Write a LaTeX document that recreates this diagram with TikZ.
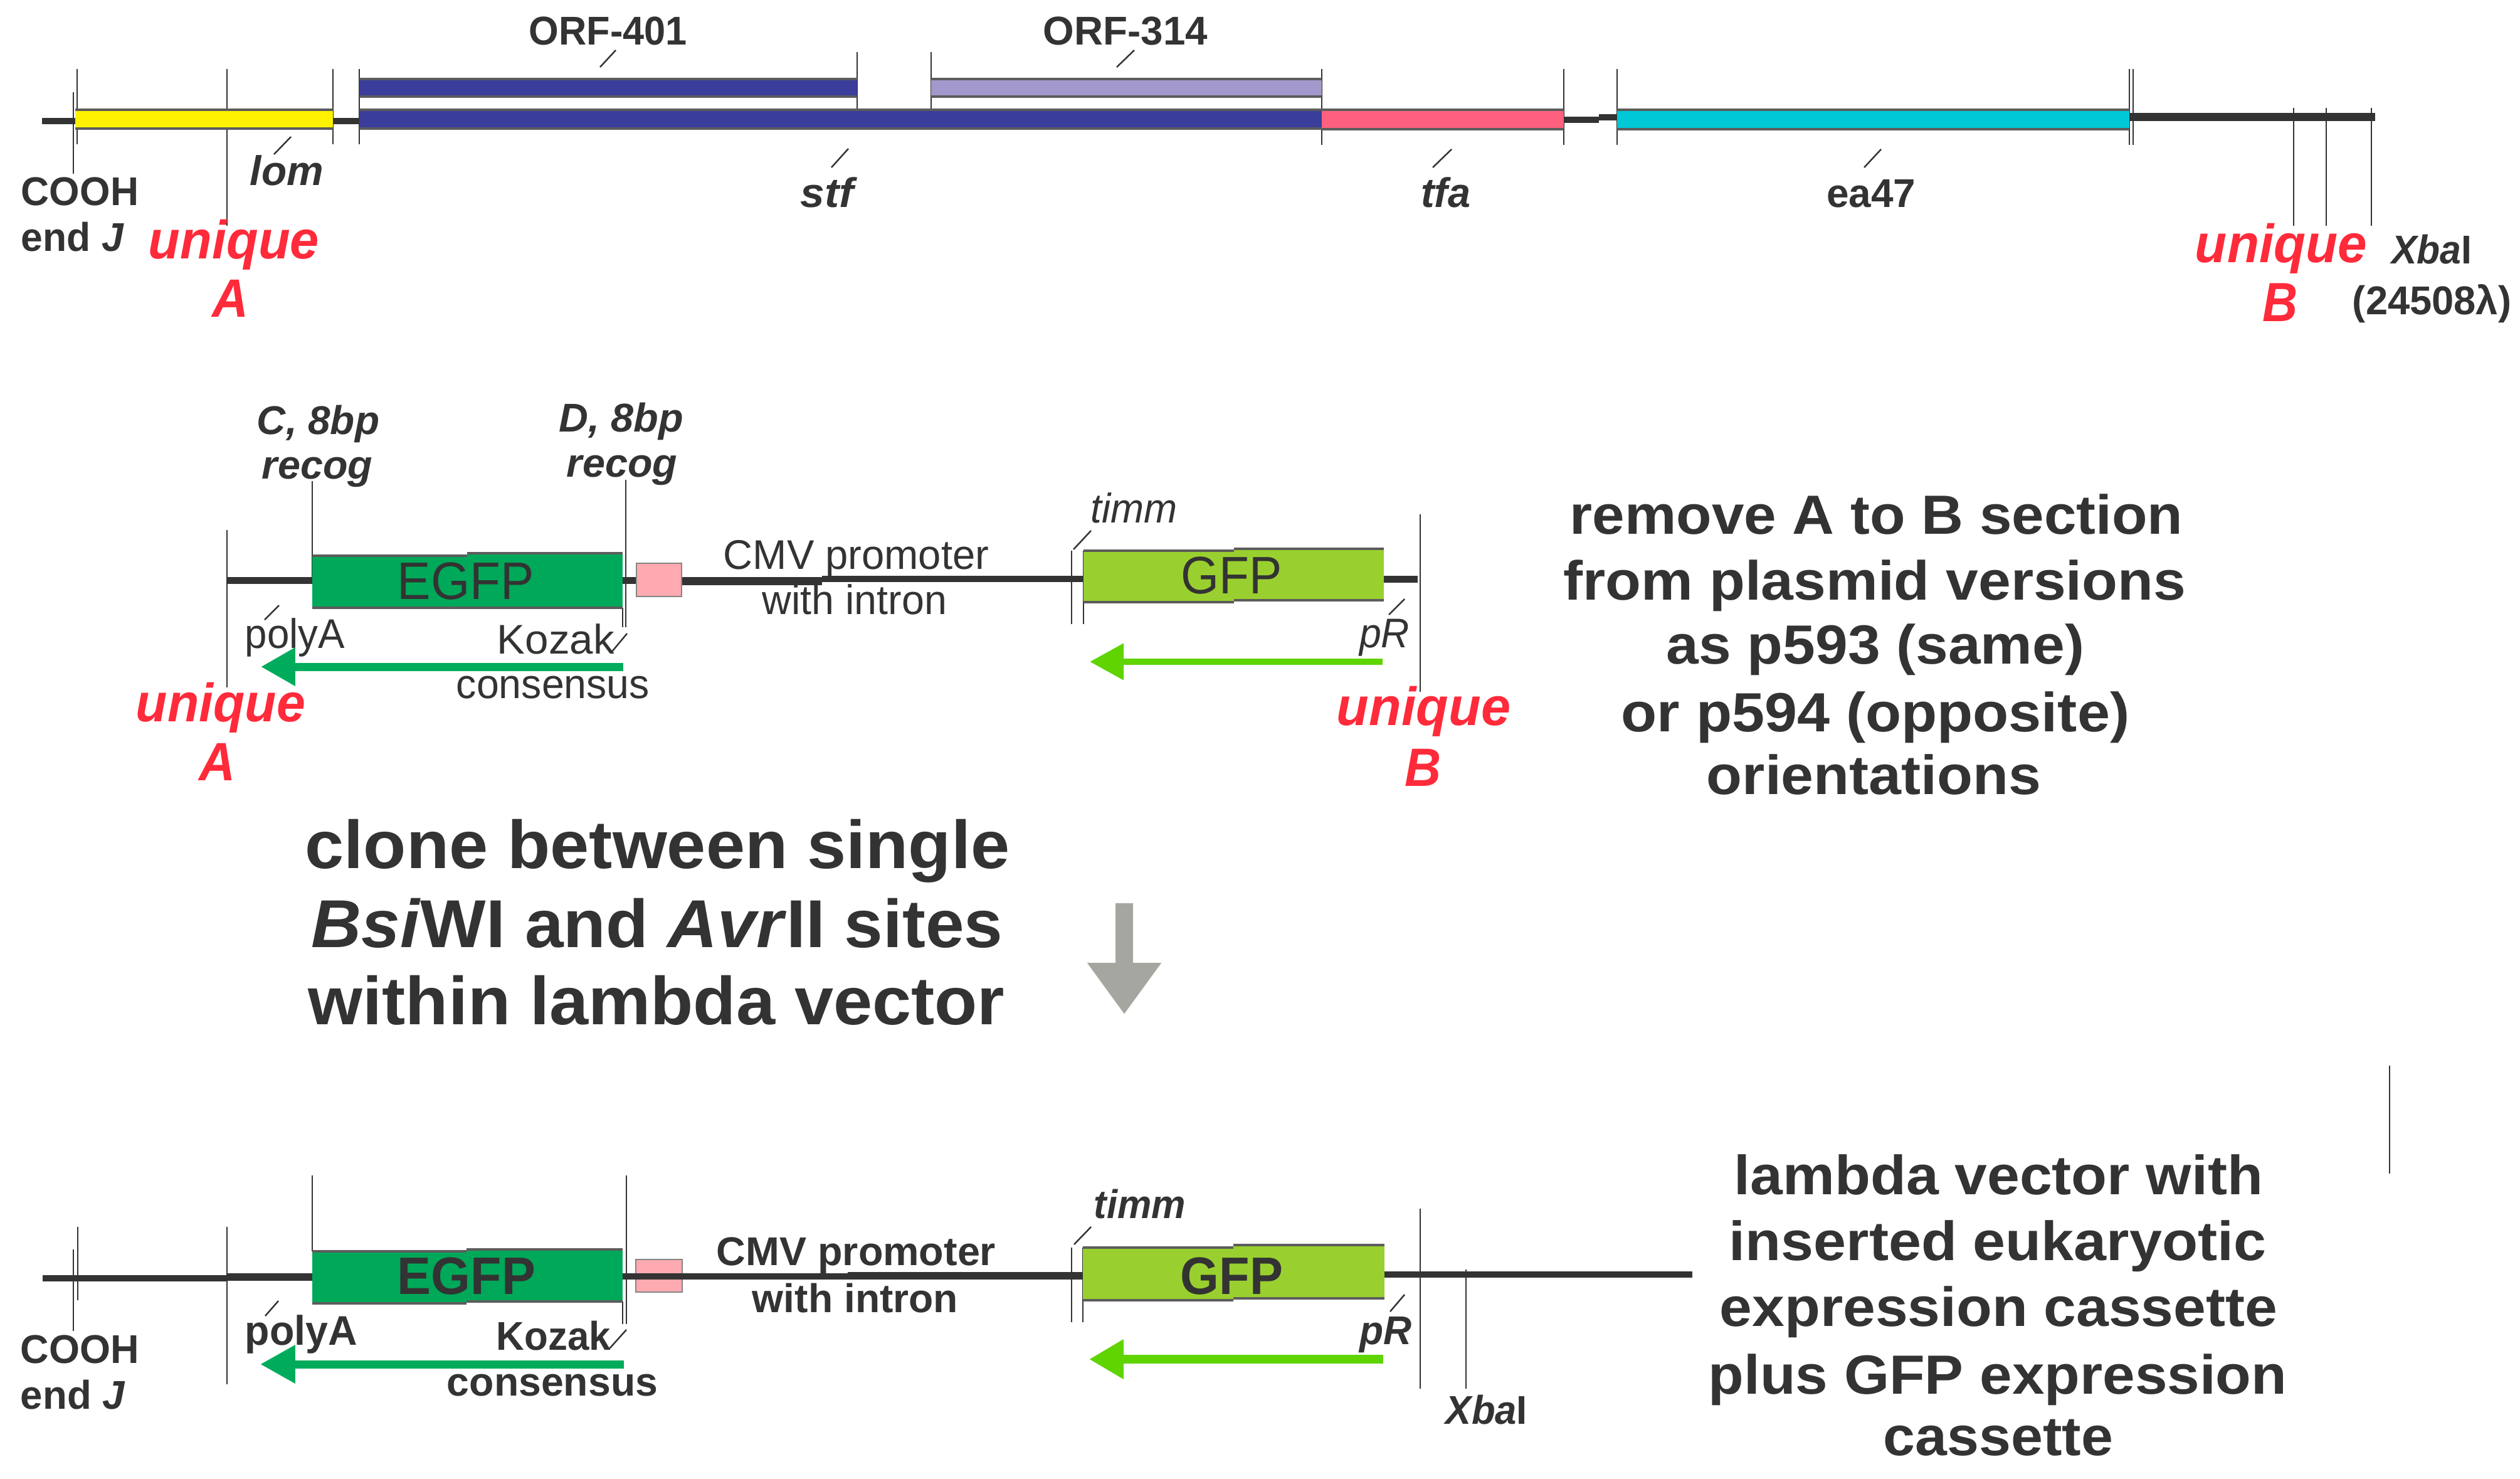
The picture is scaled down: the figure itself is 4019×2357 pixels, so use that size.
\documentclass[tikz,border=0pt]{standalone}
\usepackage{fontspec}
\usepackage{graphicx}
\setmainfont{Liberation Sans}
\usetikzlibrary{arrows.meta}
\definecolor{ink}{HTML}{333333}
\definecolor{uniq}{HTML}{FF2A3A}
\definecolor{cBlue}{HTML}{3A3D9A}
\definecolor{cLilac}{HTML}{A398CB}
\definecolor{cYellow}{HTML}{FFF200}
\definecolor{cPink}{HTML}{FF607F}
\definecolor{cTeal}{HTML}{00C8D6}
\definecolor{cEgfp}{HTML}{00A859}
\definecolor{cGfp}{HTML}{99D02F}
\definecolor{cKoz}{HTML}{FFAAB0}
\definecolor{cArrG}{HTML}{00AC5C}
\definecolor{cArrL}{HTML}{5FD400}
\definecolor{cGrey}{HTML}{A6A6A0}
\tikzset{
  lbl/.style={anchor=base,inner sep=0pt,outer sep=0pt,text=ink},
  redlbl/.style={lbl,text=uniq},
  tick/.style={draw=ink,line width=0.7pt},
  dna/.style={draw=ink,line width=#1*0.2845pt},
  edge/.style={draw=ink!80,line width=1pt},
  kozbox/.style={fill=cKoz,draw=ink!60,line width=0.8pt},
}
\newsavebox\tb
\newcommand\fz[1]{\fontsize{\fpeval{#1*0.28453}}{\fpeval{#1*0.33}}\selectfont}
% [style]{name}{x left}{x right}{baseline}{size px}{font}{text}
\newcommand\T[8][lbl]{\node[#1,name=#2] at ({(#3+#4)/2},#5) {\sbox\tb{\fz{#6}#7#8}\pgfmathsetmacro\sx{(#4-#3)*0.284528/\wd\tb}\scalebox{\sx}[1]{\usebox\tb}};}
\newcommand\gbar[5]{\fill[#5] (#1,#3) rectangle (#2,#4); \draw[edge] (#1,#3) -- (#2,#3); \draw[edge] (#1,#4) -- (#2,#4);}
\newcommand\vt[3]{\draw[tick] (#1,#2) -- (#1,#3);}
\newcommand\ld[4]{\draw[tick] (#1,#2) -- (#3,#4);}
\begin{document}
\begin{tikzpicture}[x=0.01cm,y=-0.01cm]
\useasboundingbox (0,0) rectangle (4019,2357);
\fill[white] (0,0) rectangle (4019,2357);

% ---- top row
\vt{117}{147}{277}\vt{123}{110}{230}\vt{362}{110}{360}\vt{531}{110}{230}\vt{573}{110}{230}
\vt{1367}{83}{175}\vt{1485}{83}{175}\vt{2108}{110}{231}\vt{2494}{110}{231}\vt{2579}{110}{231}
\vt{3396}{110}{231}\vt{3402}{110}{231}\vt{3658}{172}{360}\vt{3710}{172}{360}\vt{3782}{172}{360}
\draw[dna=10] (67,193) -- (120,193);
\draw[dna=10] (531,193) -- (573,193);
\draw[dna=10] (2494,191) -- (2550,191);
\draw[dna=10] (2550,187) -- (2579,187);
\draw[dna=13] (3396,186) -- (3788,186);
\gbar{120}{531}{175}{205}{cYellow}
\gbar{573}{1367}{126}{154}{cBlue}
\gbar{1485}{2108}{126}{154}{cLilac}
\gbar{573}{2108}{175}{205}{cBlue}
\gbar{2108}{2494}{175}{206}{cPink}
\gbar{2579}{3396}{175}{206}{cTeal}
\ld{982}{80}{957}{107}\ld{1809}{80}{1781}{107}\ld{464}{218}{437}{246}\ld{1353}{237}{1326}{267}
\ld{2315}{238}{2285}{267}\ld{3000}{238}{2973}{267}

\T{orfa}{844}{1096}{71}{64}{\bfseries}{ORF-401}
\T{orfb}{1664}{1926}{71}{64}{\bfseries}{ORF-314}
\T{lom}{399}{516}{295}{66}{\bfseries\itshape}{lom}
\T{stf}{1277}{1362}{330}{66}{\bfseries\itshape}{stf}
\T{tfa}{2266}{2345}{330}{66}{\bfseries\itshape}{tfa}
\T{eaf}{2913}{3055}{330}{64}{\bfseries}{ea47}
\T{coohA}{34}{221}{327}{64}{\bfseries}{COOH}
\T{endA}{34}{198}{400}{64}{\bfseries}{end \textit{J}}
\T[redlbl]{uniA}{237}{509}{412}{86}{\bfseries\itshape}{unique}
\T[redlbl]{letA}{339}{397}{505}{86}{\bfseries\itshape}{A}
\T[redlbl]{uniB}{3501}{3775}{418}{86}{\bfseries\itshape}{unique}
\T[redlbl]{letB}{3608}{3664}{512}{88}{\bfseries\itshape}{B}
\T{xbaA}{3814}{3942}{420}{64}{\bfseries}{\textit{Xba}I}
\T{pos}{3752}{4005}{501}{64}{\bfseries}{(24508λ)}

% ---- middle row
\vt{362}{845}{1096}\vt{498}{767}{925}\vt{993}{969}{1000}\vt{998}{765}{1000}
\vt{1709}{878}{995}\vt{1728}{878}{995}\vt{2265}{820}{1103}
\draw[dna=11] (362,925) -- (498,925);
\draw[dna=11] (993,925) -- (1015,925);
\draw[dna=13] (1087,926) -- (1311,926);
\draw[dna=10] (1311,923) -- (1728,923);
\draw[dna=11] (2207,923) -- (2261,923);
\gbar{498}{745}{886}{969}{cEgfp}
\gbar{745}{993}{882}{969}{cEgfp}
\draw[kozbox] (1015,898) rectangle (1087,951);
\gbar{1728}{1968}{878}{960}{cGfp}
\gbar{1968}{2207}{875}{957}{cGfp}
\ld{445}{965}{422}{988}\ld{1000}{1010}{975}{1040}\ld{1740}{846}{1712}{876}\ld{2240}{955}{2215}{980}
\T{cA}{410}{605}{692}{64}{\bfseries\itshape}{C, 8bp}
\T{rcA}{418}{594}{763}{64}{\bfseries\itshape}{recog}
\T{dA}{892}{1090}{688}{64}{\bfseries\itshape}{D, 8bp}
\T{rdA}{904}{1080}{760}{64}{\bfseries\itshape}{recog}
\T{egfpA}{634}{852}{955}{84}{}{EGFP}
\T{gfpA}{1884}{2045}{946}{84}{}{GFP}
\T{cmvA}{1154}{1577}{907}{66}{}{CMV promoter}
\T{intA}{1216}{1510}{979}{66}{}{with intron}
\T{timA}{1740}{1878}{833}{66}{\itshape}{timm}
\T{polyA}{391}{550}{1033}{66}{}{polyA}
\T{kozA}{793}{980}{1042}{66}{}{Kozak}
\T{conA}{728}{1036}{1113}{66}{}{consensus}
\T{prA}{2168}{2248}{1032}{66}{\itshape}{pR}
\T[redlbl]{uniC}{217}{487}{1150}{86}{\bfseries\itshape}{unique}
\T[redlbl]{letC}{318}{376}{1244}{86}{\bfseries\itshape}{A}
\T[redlbl]{uniD}{2132}{2409}{1156}{86}{\bfseries\itshape}{unique}
\T[redlbl]{letD}{2240}{2298}{1253}{86}{\bfseries\itshape}{B}
\coordinate (a1s) at (994,1063); \coordinate (a1e) at (416,1063);
\draw[draw=cArrG,line width=3.7pt,-{Triangle[length=15.6pt,width=16.5pt,fill=cArrG]}] (a1s) -- (a1e);
\coordinate (a2s) at (2205,1055); \coordinate (a2e) at (1738,1055);
\draw[draw=cArrL,line width=3pt,-{Triangle[length=15.4pt,width=16pt,fill=cArrL]}] (a2s) -- (a2e);

% ---- right and middle captions
\T{r1}{2504}{3481}{851}{88}{\bfseries}{remove A to B section}
\T{r2}{2494}{3486}{956}{88}{\bfseries}{from plasmid versions}
\T{r3}{2658}{3324}{1058}{88}{\bfseries}{as p593 (same)}
\T{r4}{2586}{3396}{1166}{88}{\bfseries}{or p594 (opposite)}
\T{r5}{2722}{3255}{1266}{88}{\bfseries}{orientations}
\T{m1}{487}{1610}{1384}{108}{\bfseries}{clone between single}
\T{m2}{497}{1599}{1510}{108}{\bfseries}{\textit{Bsi}WI and \textit{Avr}II sites}
\T{m3}{492}{1602}{1633}{108}{\bfseries}{within lambda vector}
\coordinate (gs) at (1793,1440); \coordinate (ge) at (1793,1617);
\draw[draw=cGrey,line width=8pt,-{Triangle[length=23.3pt,width=32pt,fill=cGrey]}] (gs) -- (ge);
\vt{3811}{1699}{1871}

% ---- bottom row
\vt{117}{1992}{2122}\vt{124}{1956}{2073}\vt{362}{1956}{2207}\vt{498}{1874}{1995}\vt{993}{2075}{2111}\vt{999}{1874}{2111}
\vt{1709}{1989}{2108}\vt{1727}{1989}{2108}\vt{2265}{1927}{2214}\vt{2338}{2024}{2214}
\gbar{498}{744}{1995}{2078}{cEgfp}
\gbar{744}{993}{1992}{2075}{cEgfp}
\gbar{1727}{1967}{1989}{2073}{cGfp}
\gbar{1967}{2208}{1985}{2070}{cGfp}
\draw[kozbox] (1014,2008) rectangle (1088,2060);
\draw[dna=10] (68,2038) -- (362,2038);
\draw[dna=12] (362,2036) -- (498,2036);
\draw[dna=10] (993,2035) -- (1352,2035);
\draw[dna=12] (1352,2034) -- (1727,2034);
\draw[dna=10] (2208,2032) -- (2699,2032);
\ld{444}{2074}{423}{2098}\ld{999}{2120}{972}{2150}\ld{1740}{1956}{1713}{1984}\ld{2240}{2064}{2217}{2091}
\T{egfpB}{634}{854}{2063}{84}{\bfseries}{EGFP}
\T{gfpB}{1883}{2046}{2063}{84}{\bfseries}{GFP}
\T{cmvB}{1143}{1588}{2017}{64}{\bfseries}{CMV promoter}
\T{intB}{1200}{1528}{2092}{64}{\bfseries}{with intron}
\T{timB}{1745}{1891}{1942}{64}{\bfseries\itshape}{timm}
\T{polyB}{391}{570}{2144}{66}{\bfseries}{polyA}
\T{kozB}{792}{974}{2152}{64}{\bfseries}{Kozak}
\T{conB}{713}{1049}{2225}{64}{\bfseries}{consensus}
\T{prB}{2168}{2251}{2143}{64}{\bfseries\itshape}{pR}
\T{coohB}{33}{222}{2173}{64}{\bfseries}{COOH}
\T{endB}{33}{200}{2246}{64}{\bfseries}{end \textit{J}}
\T{xbaB}{2306}{2436}{2270}{64}{\bfseries}{\textit{Xba}I}
\coordinate (a3s) at (995,2175); \coordinate (a3e) at (415,2175);
\draw[draw=cArrG,line width=3.7pt,-{Triangle[length=15.9pt,width=16.5pt,fill=cArrG]}] (a3s) -- (a3e);
\coordinate (a4s) at (2206,2167); \coordinate (a4e) at (1737,2167);
\draw[draw=cArrL,line width=4.2pt,-{Triangle[length=15.6pt,width=17pt,fill=cArrL]}] (a4s) -- (a4e);
\T{b1}{2766}{3609}{1904}{88}{\bfseries}{lambda vector with}
\T{b2}{2758}{3614}{2009}{88}{\bfseries}{inserted eukaryotic}
\T{b3}{2743}{3632}{2114}{88}{\bfseries}{expression cassette}
\T{b4}{2725}{3647}{2222}{88}{\bfseries}{plus GFP expression}
\T{b5}{3004}{3370}{2320}{88}{\bfseries}{cassette}
\end{tikzpicture}
\end{document}
